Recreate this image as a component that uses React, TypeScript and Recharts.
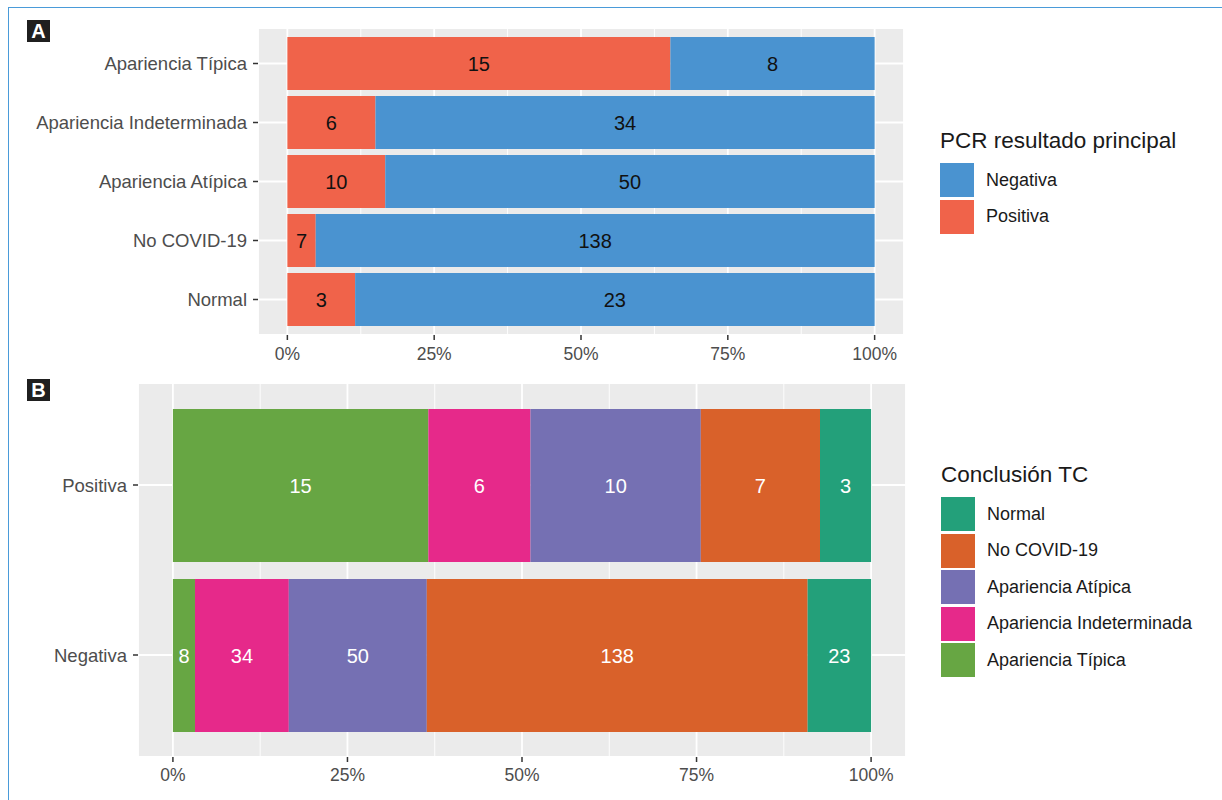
import React from 'react';
import { BarChart, Bar, XAxis, YAxis, CartesianGrid, LabelList, Legend } from 'recharts';

const FONT = '"Liberation Sans", Arial, Helvetica, sans-serif';

// ---- data ----
const ctCategories = [
  'Apariencia Típica',
  'Apariencia Indeterminada',
  'Apariencia Atípica',
  'No COVID-19',
  'Normal',
];
const pcrGroups = ['Positiva', 'Negativa'];
const positiveCounts = [15, 6, 10, 7, 3];
const negativeCounts = [8, 34, 50, 138, 23];
const percentTicks = [0, 0.25, 0.5, 0.75, 1];
const minorPercentTicks = [0.125, 0.375, 0.625, 0.875];
const pcrLegendOrder = ['Negativa', 'Positiva'];

// ---- palettes ----
const pcrColors: Record<string, string> = { Positiva: '#f0634a', Negativa: '#4a93d0' };
const ctColors = ['#67a643', '#e6298a', '#7570b3', '#d9612a', '#23a07a'];

// ---- derived tables (shares of each row, plus raw counts for labels) ----
const dataA = ctCategories.map((cat, i) => {
  const total = positiveCounts[i] + negativeCounts[i];
  return {
    cat,
    Positiva: positiveCounts[i] / total,
    Negativa: negativeCounts[i] / total,
    PositivaN: positiveCounts[i],
    NegativaN: negativeCounts[i],
  };
});
const countsByGroup = [positiveCounts, negativeCounts];
const dataB = pcrGroups.map((group, gi) => {
  const counts = countsByGroup[gi];
  const total = counts.reduce((s, v) => s + v, 0);
  const row: Record<string, any> = { group };
  ctCategories.forEach((_, ci) => {
    row[`ct${ci}`] = counts[ci] / total;
    row[`ct${ci}N`] = counts[ci];
  });
  return row;
});

const pctFmt = (v: number) => `${Math.round(v * 100)}%`;

const LegendBox = ({ title, items }: { title: string; items: { label: string; color: string }[] }) => (
  <div style={{ fontFamily: FONT, color: '#1a1a1a' }}>
    <div style={{ fontSize: 22.5, lineHeight: '26px', marginBottom: 8, whiteSpace: 'nowrap' }}>{title}</div>
    {items.map((it) => (
      <div key={it.label} style={{ display: 'flex', alignItems: 'center', height: 36.5 }}>
        <div style={{ width: 34, height: 34, background: it.color, flex: 'none' }} />
        <span style={{ marginLeft: 12, fontSize: 18, whiteSpace: 'nowrap' }}>{it.label}</span>
      </div>
    ))}
  </div>
);

const PanelTag = ({ letter, top }: { letter: string; top: number }) => (
  <div
    style={{
      position: 'absolute',
      left: 27,
      top,
      width: 23,
      height: 22,
      background: '#1f1f1f',
      color: '#fff',
      fontFamily: FONT,
      fontWeight: 700,
      fontSize: 20,
      lineHeight: '22px',
      textAlign: 'center',
    }}
  >
    {letter}
  </div>
);

const axisTick = { fill: '#4d4d4d', fontSize: 18.5, fontFamily: FONT };
const xTick = { fill: '#4d4d4d', fontSize: 17.5, fontFamily: FONT };
const tickLine = { stroke: '#333333', strokeWidth: 1.5 };
const DOMAIN: [number, number] = [-0.05, 1.05];

export default function App() {
  return (
    <div
      style={{
        position: 'absolute',
        left: 0,
        top: 0,
        width: 1222,
        height: 800,
        background: '#ffffff',
        overflow: 'hidden',
      }}
    >
      {/* frame */}
      <div
        style={{
          position: 'absolute',
          left: 8,
          top: 7,
          width: 1230,
          height: 810,
          borderTop: '1.5px solid #4a9bd9',
          borderLeft: '1.5px solid #4a9bd9',
        }}
      />

      {/* Panel A */}
      <div style={{ position: 'absolute', left: 0, top: 0 }}>
        <BarChart
          width={1222}
          height={380}
          data={dataA}
          layout="vertical"
          margin={{ top: 28, right: 318, bottom: 10, left: 0 }}
        >
          <CartesianGrid fill="#ebebeb" stroke="#ffffff" strokeWidth={1.8} />
          <CartesianGrid xAxisId="minor" horizontal={false} stroke="#ffffff" strokeWidth={0.9} />
          <XAxis
            type="number"
            domain={DOMAIN}
            allowDataOverflow
            ticks={percentTicks}
            tickFormatter={pctFmt}
            axisLine={false}
            tickLine={tickLine}
            tickSize={5}
            tickMargin={8}
            tick={xTick}
            height={35}
            interval={0}
          />
          <XAxis xAxisId="minor" type="number" domain={DOMAIN} allowDataOverflow ticks={minorPercentTicks} hide />
          <YAxis
            type="category"
            dataKey="cat"
            width={258}
            axisLine={false}
            tickLine={tickLine}
            tickSize={5}
            tickMargin={6}
            tick={axisTick}
            padding={{ top: 6, bottom: 6 }}
            interval={0}
          />
          {pcrGroups.map((g) => (
            <Bar key={g} dataKey={g} stackId="a" fill={pcrColors[g]} barSize={53} isAnimationActive={false}>
              <LabelList dataKey={`${g}N`} position="center" fill="#111111" fontSize={20} fontFamily={FONT} />
            </Bar>
          ))}
          <Legend
            layout="vertical"
            align="center"
            verticalAlign="middle"
            wrapperStyle={{ left: 940, top: 128, width: 280, height: 'auto' }}
            content={() => (
              <LegendBox
                title="PCR resultado principal"
                items={pcrLegendOrder.map((g) => ({ label: g, color: pcrColors[g] }))}
              />
            )}
          />
        </BarChart>
      </div>

      {/* Panel B */}
      <div style={{ position: 'absolute', left: 0, top: 360 }}>
        <BarChart
          width={1222}
          height={440}
          data={dataB}
          layout="vertical"
          margin={{ top: 23, right: 316, bottom: 8, left: 0 }}
        >
          <CartesianGrid fill="#ebebeb" stroke="#ffffff" strokeWidth={1.8} />
          <CartesianGrid xAxisId="minor" horizontal={false} stroke="#ffffff" strokeWidth={0.9} />
          <XAxis
            type="number"
            domain={DOMAIN}
            allowDataOverflow
            ticks={percentTicks}
            tickFormatter={pctFmt}
            axisLine={false}
            tickLine={tickLine}
            tickSize={5}
            tickMargin={7}
            tick={xTick}
            height={35}
            interval={0}
          />
          <XAxis xAxisId="minor" type="number" domain={DOMAIN} allowDataOverflow ticks={minorPercentTicks} hide />
          <YAxis
            type="category"
            dataKey="group"
            width={138}
            axisLine={false}
            tickLine={tickLine}
            tickSize={5}
            tickMargin={6}
            tick={axisTick}
            padding={{ top: 17, bottom: 17 }}
            interval={0}
          />
          {ctCategories.map((c, ci) => (
            <Bar key={c} dataKey={`ct${ci}`} name={c} stackId="b" fill={ctColors[ci]} barSize={153} isAnimationActive={false}>
              <LabelList dataKey={`ct${ci}N`} position="center" fill="#ffffff" fontSize={20} fontFamily={FONT} />
            </Bar>
          ))}
          <Legend
            layout="vertical"
            align="center"
            verticalAlign="middle"
            wrapperStyle={{ left: 941, top: 102, width: 280, height: 'auto' }}
            content={() => (
              <LegendBox
                title="Conclusión TC"
                items={ctCategories
                  .map((c, ci) => ({ label: c, color: ctColors[ci] }))
                  .reverse()}
              />
            )}
          />
        </BarChart>
      </div>

      <PanelTag letter="A" top={20} />
      <PanelTag letter="B" top={379} />
    </div>
  );
}
